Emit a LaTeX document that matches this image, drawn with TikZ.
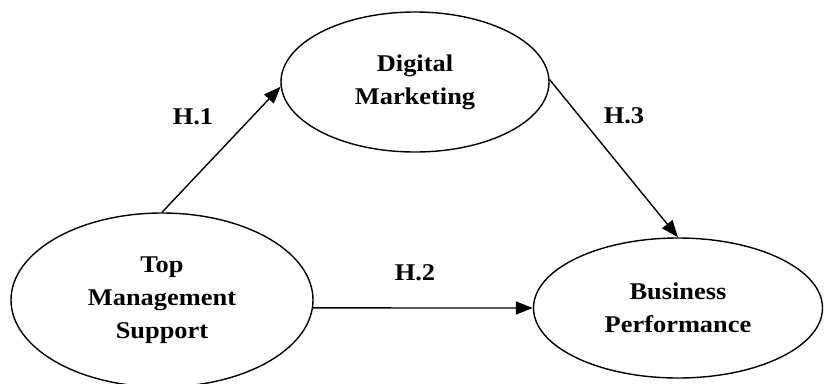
\documentclass[tikz,border=0pt]{standalone}
\usepackage{fontspec}
\setmainfont{Liberation Serif}[FakeStretch=1.1]
\usetikzlibrary{shapes.geometric,arrows.meta}
\begin{document}
\begin{tikzpicture}[x=1pt,y=-1pt,
  construct/.style={draw,ellipse,line width=1.4pt,inner sep=0pt,align=center,
    font=\fontsize{24}{33}\selectfont\bfseries},
  hyp/.style={font=\fontsize{24}{28}\selectfont\bfseries},
  link/.style={line width=1.4pt,-{Triangle[length=17pt,width=13pt]}}]
\useasboundingbox (0,0) rectangle (830,383);
\node[construct,minimum width=268pt,minimum height=140pt] (DM) at (415,82) {Digital\\Marketing};
\node[construct,minimum width=302pt,minimum height=174pt] (TM) at (162,300) {Top\\Management\\Support};
\node[construct,minimum width=289pt,minimum height=140pt] (BP) at (678,308) {Business\\Performance};
\draw[link] (TM.north) -- (DM.182);
\draw[link] (DM.1) -- (BP.north);
\draw[link] (TM.-3) -- (BP.west);
\node[hyp] (h1) at (193,117) {H.1};
\node[hyp] (h3) at (624,116) {H.3};
\node[hyp] (h2) at (415,273) {H.2};
\end{tikzpicture}
\end{document}
